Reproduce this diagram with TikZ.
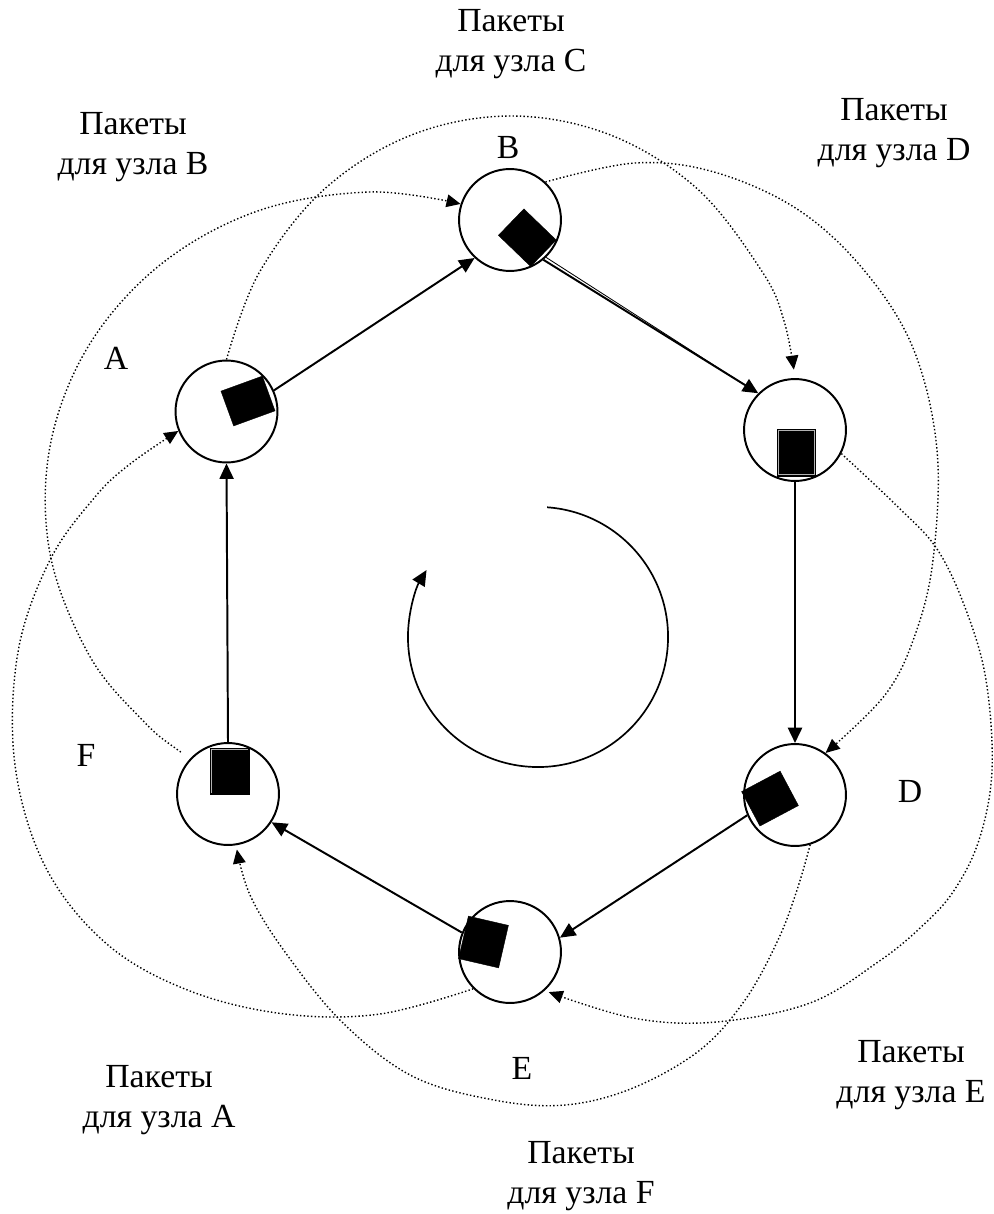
\documentclass[tikz,border=0pt]{standalone}
\usepackage{fontspec}
\setmainfont{Liberation Serif}
\usetikzlibrary{arrows.meta,calc}
\begin{document}
\begin{tikzpicture}[x=0.025cm,y=0.025cm,
  nd/.style={circle,draw,line width=1.4pt,minimum size=72.5pt,inner sep=0pt},
  pkt/.style={fill=black,draw=black,line width=0.3pt,inner sep=0pt},
  frm/.style={draw=gray!60,line width=0.6pt},
  arr/.style={line width=1.4pt,-{Triangle[length=11pt,width=10pt]}},
  pk/.style={line width=1pt,dash pattern=on 1pt off 1.6pt,-{Triangle[length=10pt,width=9pt]}},
  lbl/.style={align=center,font=\fontsize{24}{29}\selectfont,inner sep=0pt}]
\useasboundingbox (0,0) rectangle (993,-1214);
% ring nodes
\node[nd] (A) at (226.5,-411.5) {};
\node[nd] (B) at (510,-220) {};
\node[nd] (C) at (795,-430) {};
\node[nd] (D) at (795,-795) {};
\node[nd] (E) at (510,-952) {};
\node[nd] (F) at (228,-794) {};
% packets
\node[pkt,minimum width=31.3pt,minimum height=26.3pt,rotate=20] (pa) at (248,-401) {};
\node[pkt,minimum width=31.9pt,minimum height=26.1pt,rotate=-44] (pb) at (527.3,-237.7) {};
\node[pkt,minimum width=27pt,minimum height=33.4pt] (pc) at (796.5,-452.3) {};
\node[pkt,minimum width=31pt,minimum height=27.7pt,rotate=28] (pd) at (770,-798.6) {};
\node[pkt,minimum width=29.2pt,minimum height=31pt,rotate=-13] (pe) at (483.5,-942) {};
\node[pkt,minimum width=27.7pt,minimum height=32.7pt] (pf) at (229.5,-771) {};
\draw[frm] ([shift={(1.1pt,-1.1pt)}]pc.north west) rectangle ([shift={(-1.1pt,1.1pt)}]pc.south east);
\draw[frm] ([shift={(1.1pt,1.1pt)}]pf.south west) |- ([shift={(-1.1pt,-1.1pt)}]pf.north east);
% ring connectors
\draw[arr] (A.24) -- (B.-133);
\draw[arr] (B.-50) -- (C.135);
\draw[line width=0.6pt] (B.-46) -- ($(B.-50)!0.9!(C.135)$);
\draw[arr,line width=1.9pt] (C.-90) -- (D.90);
\draw[arr] (D.-157) -- (E.16);
\draw[arr] (E.158) -- (F.-33);
\draw[arr] (F.90) -- (A.-90);
% rotation arrow
\coordinate (O) at (538,-637);
\draw[arr,line width=1.2pt] ([shift={(O)}]86:3.25cm) arc[start angle=86,end angle=-211,radius=3.25cm];
% packet paths (dotted)
\draw[pk,shorten <=8pt] plot[smooth,tension=0.6] coordinates {(F.137) (140.2,-717.8) (88.5,-654) (50,-553.5) (50,-446.5) (88.5,-346) (161.1,-264.1) (258.8,-210.6) (370,-192) (B.162)};
\draw[pk,shorten >=6pt] plot[smooth,tension=0.6] coordinates {(A.90) (259,-273) (324,-189.5) (411.5,-135) (511,-116) (610.5,-135) (698,-189.5) (763,-273) (784.5,-322.6) (C.90)};
\draw[pk] plot[smooth,tension=0.6] coordinates {(B.47) (635,-163) (714,-172) (797,-209) (863,-269) (913,-348) (937,-450) (933,-560) (915,-635) (885,-695) (D.54)};
\draw[pk,shorten >=3pt] plot[smooth,tension=0.6] coordinates {(C.-27) (897,-506) (937,-549) (966,-610) (986,-680) (992,-770) (979,-840) (953,-892) (920,-928) (878,-962) (810,-1003) (716,-1022) (633,-1018) (E.-48)};
\draw[pk,shorten >=3pt] plot[smooth,tension=0.6] coordinates {(D.-73) (797,-890) (778,-940) (745,-1000) (700,-1050) (633,-1088) (565,-1105) (494,-1100) (412,-1076) (342,-1022) (285,-952) (250,-895) (F.-81)};
\draw[pk] plot[smooth,tension=0.6] coordinates {(E.-135) (380,-1014) (285,-1014) (190,-991) (108,-945) (46,-868) (15,-765) (18,-652) (50,-560) (95,-497) (130,-464) (A.-158)};
% labels
\node[lbl] (lC) at (511,-44) {Пакеты\\для узла C};
\node[lbl] (lB) at (133,-147) {Пакеты\\для узла B};
\node[lbl] (lD) at (894,-133) {Пакеты\\для узла D};
\node[lbl] (lE) at (911,-1075) {Пакеты\\для узла E};
\node[lbl] (lF) at (581,-1176) {Пакеты\\для узла F};
\node[lbl] (lA) at (159,-1100) {Пакеты\\для узла A};
\node[lbl] (tA) at (116,-358) {A};
\node[lbl] (tB) at (508,-148) {B};
\node[lbl] (tD) at (910,-791) {D};
\node[lbl] (tE) at (522,-1068) {E};
\node[lbl] (tF) at (86,-755) {F};
\end{tikzpicture}
\end{document}
